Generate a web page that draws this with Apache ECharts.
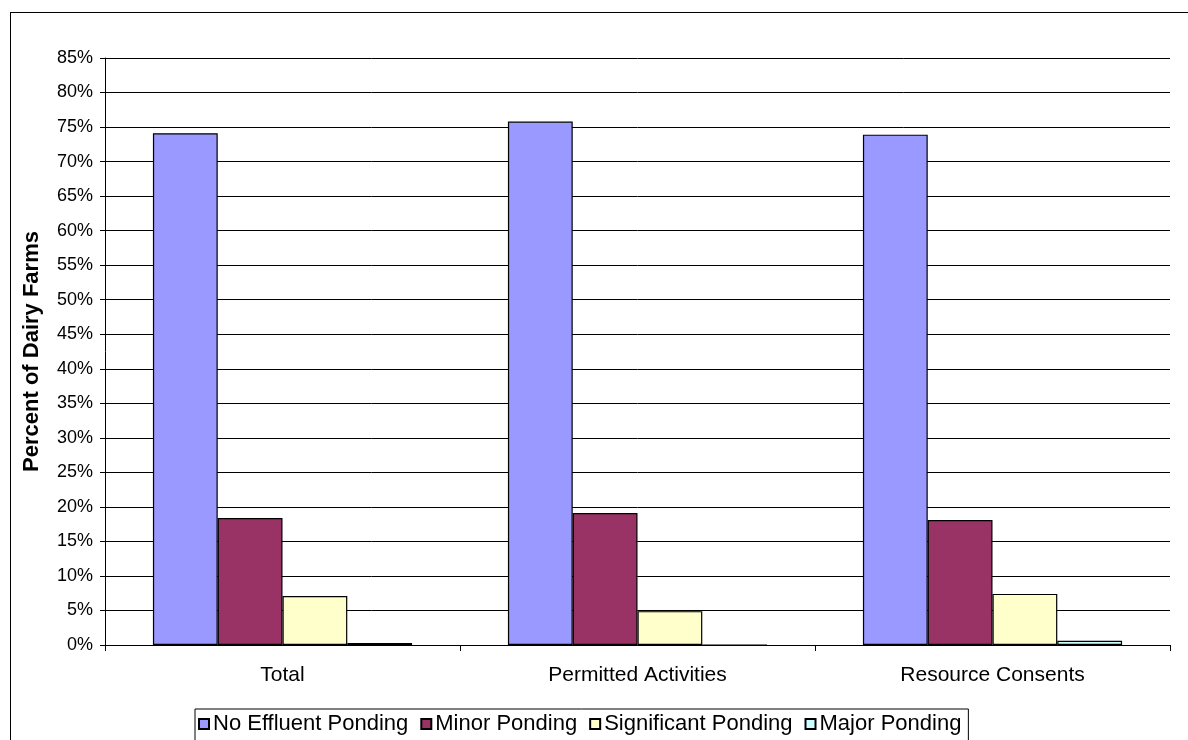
<!DOCTYPE html>
<html>
<head>
<meta charset="utf-8">
<script src="https://cdn.jsdelivr.net/npm/echarts@6/dist/echarts.min.js"></script>
<style>
  html, body { margin: 0; padding: 0; background: #fff; }
  #frame { position: absolute; left: 10px; top: 12px; width: 1200px; height: 800px; border: 1px solid #000; box-sizing: border-box; }
  #chart { position: absolute; left: 0; top: 0; width: 1188px; height: 740px; }
</style>
</head>
<body>
<div id="frame"></div>
<div id="chart"></div>
<script>
// Share of dairy farms by effluent ponding level, per consent group
const categories = ['Total', 'Permitted Activities', 'Resource Consents'];
const seriesNames = ['No Effluent Ponding', 'Minor Ponding', 'Significant Ponding', 'Major Ponding'];
const noEffluent = [74.1, 75.8, 73.9];
const minor = [18.4, 19.1, 18.1];
const significant = [7.1, 4.9, 7.4];
const major = [0.3, 0, 0.6];
const colors = ['#9999FF', '#993366', '#FFFFCC', '#CCFFFF'];

const values = [noEffluent, minor, significant, major];
const font = '"Liberation Sans", Arial, sans-serif';

const chart = echarts.init(document.getElementById('chart'));
chart.setOption({
  animation: false,
  textStyle: { fontFamily: font },
  grid: { left: 105, right: 18, top: 58, bottom: 95 },
  legend: {
    top: 709,
    left: 195,
    itemWidth: 10,
    itemHeight: 10,
    itemGap: 12,
    icon: 'rect',
    borderColor: '#000',
    borderWidth: 1,
    padding: [4, 7, 12, 3],
    textStyle: { fontFamily: font, fontSize: 22, color: '#000', padding: [0, 0, 0, -1] },
    data: seriesNames
  },
  xAxis: {
    type: 'category',
    data: categories,
    axisLine: { lineStyle: { color: '#000', width: 1 } },
    axisTick: { show: true, length: 6, lineStyle: { color: '#000' } },
    axisLabel: { color: '#000', fontSize: 21, margin: 20, fontFamily: font },
    splitLine: { show: false }
  },
  yAxis: {
    type: 'value',
    min: 0,
    max: 85,
    interval: 5,
    name: 'Percent of Dairy Farms',
    nameLocation: 'middle',
    nameGap: 62,
    nameTextStyle: { fontFamily: font, fontSize: 22, fontWeight: 'bold', color: '#000' },
    axisLine: { show: true, lineStyle: { color: '#000' } },
    axisTick: { show: true, length: 5, lineStyle: { color: '#000' } },
    axisLabel: { color: '#000', fontSize: 18, margin: 12, formatter: '{value}%', fontFamily: font },
    splitLine: { show: true, lineStyle: { color: '#000', width: 1 } }
  },
  series: seriesNames.map((name, i) => ({
    name: name,
    type: 'bar',
    data: values[i],
    barGap: '0%',
    barCategoryGap: '27%',
    itemStyle: { color: colors[i], borderColor: '#000', borderWidth: 1.2 }
  }))
});
</script>
</body>
</html>
